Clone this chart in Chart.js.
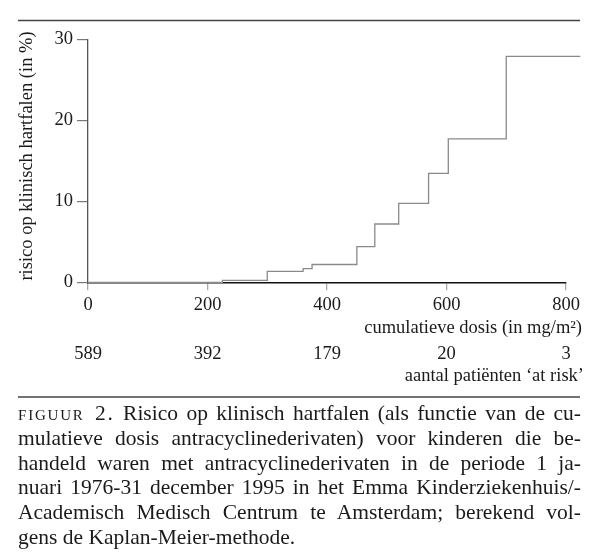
<!DOCTYPE html>
<html><head><meta charset="utf-8">
<script src="https://cdn.jsdelivr.net/npm/chart.js@4"></script>
<style>
html,body{margin:0;padding:0;background:#fff;}
#wrap{position:relative;width:600px;height:556px;overflow:hidden;}
#c{position:absolute;left:0;top:0;}
#cap{position:absolute;left:18px;top:401px;width:563px;font-family:"Liberation Serif",serif;font-size:21.5px;line-height:24.8px;color:#1a1a1a;}
#cap div{text-align:justify;text-align-last:justify;}
#cap div.last{text-align-last:left;}
.sc{font-variant:small-caps;letter-spacing:1.8px;}
</style>
</head><body>
<div id="wrap">
<canvas id="c" width="600" height="556"></canvas>
<div id="cap">
<div><span class="sc">figuur 2.</span> Risico op klinisch hartfalen (als functie van de cu-</div>
<div>mulatieve dosis antracyclinederivaten) voor kinderen die be-</div>
<div>handeld waren met antracyclinederivaten in de periode 1 ja-</div>
<div>nuari 1976-31 december 1995 in het Emma Kinderziekenhuis/-</div>
<div>Academisch Medisch Centrum te Amsterdam; berekend vol-</div>
<div class="last">gens de Kaplan-Meier-methode.</div>
</div>
</div>
<script>
// Kaplan-Meier step data (dose in mg/m², cumulative risk in %)
const doses = [0, 225, 300, 360, 375, 450, 480, 520, 570, 603, 700, 824];
const risk  = [0, 0.25, 1.35, 1.7, 2.2, 4.4, 7.2, 9.75, 13.45, 17.7, 27.9, 27.9];
const xTicks = [0, 200, 400, 600, 800];
const yTicks = [0, 10, 20, 30];
const atRiskDoses = [0, 200, 400, 600, 800];
const atRisk = ['589', '392', '179', '20', '3'];
const yTitle = 'risico op klinisch hartfalen (in %)';
const xTitle = 'cumulatieve dosis (in mg/m²)';
const riskTitle = 'aantal patiënten ‘at risk’';

const FONT = '"Liberation Serif", "Times New Roman", serif';
const FS = 18.5;

const extras = {
  id: 'extras',
  afterDraw(chart) {
    const ctx = chart.ctx;
    const xs = chart.scales.x;
    ctx.save();
    ctx.strokeStyle = '#444';
    ctx.lineWidth = 1.5;
    ctx.beginPath(); ctx.moveTo(18, 20.5); ctx.lineTo(580, 20.5); ctx.stroke();
    ctx.beginPath(); ctx.moveTo(18, 397); ctx.lineTo(580, 397); ctx.stroke();
    ctx.fillStyle = '#1a1a1a';
    ctx.font = FS + 'px ' + FONT;
    ctx.textBaseline = 'middle';
    // y title
    ctx.save();
    ctx.translate(27, 156);
    ctx.rotate(-Math.PI / 2);
    ctx.textAlign = 'center';
    ctx.fillText(yTitle, 0, 0);
    ctx.restore();
    // x title
    ctx.textAlign = 'right';
    ctx.fillText(xTitle, 582, 328);
    // at risk row
    ctx.textAlign = 'center';
    atRiskDoses.forEach((d, i) => ctx.fillText(atRisk[i], xs.getPixelForValue(d), 354));
    ctx.textAlign = 'right';
    ctx.fillText(riskTitle, 584, 376);
    ctx.restore();
  }
};

new Chart(document.getElementById('c'), {
  type: 'line',
  data: {
    datasets: [{
      data: doses.map((d, i) => ({x: d, y: risk[i]})),
      stepped: true,
      borderColor: '#8a8a8a',
      borderWidth: 1.3,
      pointRadius: 0,
      fill: false,
      clip: false
    }]
  },
  options: {
    responsive: false,
    animation: false,
    devicePixelRatio: 1,
    layout: {padding: {top: 39.3, right: 34, bottom: 0, left: 0}},
    plugins: {legend: {display: false}, tooltip: {enabled: false}},
    scales: {
      x: {
        type: 'linear', min: 0, max: 800,
        afterBuildTicks: s => { s.ticks = xTicks.map(v => ({value: v})); },
        afterFit: s => { s.height = 556 - 282.3; },
        ticks: {font: {family: FONT, size: FS}, color: '#1a1a1a', padding: 4},
        grid: {drawOnChartArea: false, tickLength: 8, color: '#aaa', lineWidth: 1.3},
        border: {display: true, color: '#111', width: 1.5}
      },
      y: {
        min: 0, max: 30,
        afterBuildTicks: s => { s.ticks = yTicks.map(v => ({value: v})); },
        afterFit: s => { s.width = 88; },
        ticks: {font: {family: FONT, size: FS}, color: '#1a1a1a', padding: 4},
        grid: {drawOnChartArea: false, tickLength: 11, color: '#777', lineWidth: 1.2},
        border: {display: true, color: '#555', width: 1.3}
      }
    }
  },
  plugins: [extras]
});
</script>
</body></html>
